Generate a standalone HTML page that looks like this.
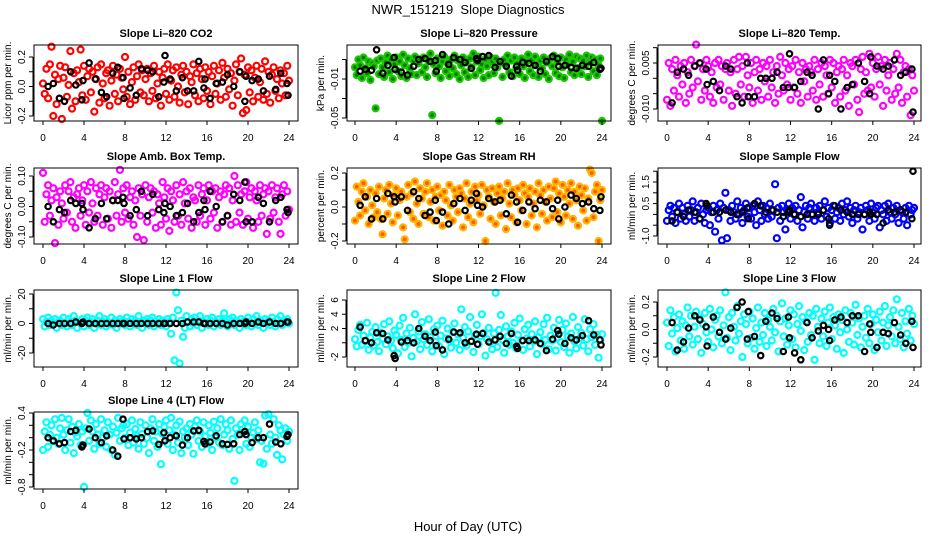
<!DOCTYPE html>
<html><head><meta charset="utf-8">
<style>
html,body{margin:0;padding:0;background:#fff;}
svg{display:block;font-family:"Liberation Sans",Arial,sans-serif;}
</style></head>
<body>
<svg id="chart" width="936" height="540" viewBox="0 0 936 540" xmlns="http://www.w3.org/2000/svg">
<rect x="0" y="0" width="936" height="540" fill="#fff"/>
<text x="468" y="14" text-anchor="middle" font-size="13">NWR_151219&#160; Slope Diagnostics</text>
<text x="468" y="531" text-anchor="middle" font-size="13">Hour of Day (UTC)</text>
</svg>
<script>
const sampleHours = [0,0.17,0.33,0.5,0.67,0.83,1,1.17,1.33,1.5,1.67,1.83,
2,2.17,2.33,2.5,2.67,2.83,3,3.17,3.33,3.5,3.67,3.83,
4,4.17,4.33,4.5,4.67,4.83,5,5.17,5.33,5.5,5.67,5.83,
6,6.17,6.33,6.5,6.67,6.83,7,7.17,7.33,7.5,7.67,7.83,
8,8.17,8.33,8.5,8.67,8.83,9,9.17,9.33,9.5,9.67,9.83,
10,10.17,10.33,10.5,10.67,10.83,11,11.17,11.33,11.5,11.67,11.83,
12,12.17,12.33,12.5,12.67,12.83,13,13.17,13.33,13.5,13.67,13.83,
14,14.17,14.33,14.5,14.67,14.83,15,15.17,15.33,15.5,15.67,15.83,
16,16.17,16.33,16.5,16.67,16.83,17,17.17,17.33,17.5,17.67,17.83,
18,18.17,18.33,18.5,18.67,18.83,19,19.17,19.33,19.5,19.67,19.83,
20,20.17,20.33,20.5,20.67,20.83,21,21.17,21.33,21.5,21.67,21.83,
22,22.17,22.33,22.5,22.67,22.83,23,23.17,23.33,23.5,23.67,23.83,24];
const blackHours = [0.5,1.0,1.6,2.1,2.7,3.2,3.8,3.9,4.5,5.1,5.7,6.2,6.8,7.3,7.8,7.9,8.5,9.1,9.6,10.2,10.7,11.3,11.8,11.9,12.4,13.0,13.6,14.1,14.7,15.2,15.7,15.8,16.3,16.9,17.5,18.0,18.6,19.2,19.7,19.8,20.4,21.0,21.5,22.1,22.7,23.2,23.8,23.9];
const xTicks = [0,4,8,12,16,20,24];

const co2Values = [.02,-.05,.12,-.08,.15,.27,-.2,.08,-.12,.05,.14,-.22,
.06,.13,-.07,.01,.24,-.15,.09,-.1,.11,.03,.25,-.06,
.14,-.09,.07,.12,-.04,.1,-.17,.05,.13,-.11,.15,.02,
-.08,.09,.11,-.13,.04,.14,-.05,.08,-.1,.12,.06,-.02,
.2,-.07,.1,-.12,.03,.13,-.09,.07,.15,-.04,.11,-.06,
.05,.12,-.1,.09,-.03,.14,-.08,.02,.1,-.13,.06,.12,
-.05,.15,-.09,.04,.11,-.07,.13,.0,-.11,.08,.14,-.04,
.1,-.12,.07,.03,.15,-.06,.09,-.1,.12,.05,-.08,.13,
-.03,.1,-.12,.07,.14,-.05,.02,.11,-.09,.16,.06,-.07,
.12,-.02,.09,-.13,.04,.15,-.06,.1,.19,-.18,.08,-.16,
.13,-.04,.11,-.1,.06,.14,-.07,.03,.12,-.09,.17,-.05,
.1,-.11,.08,.13,-.03,.05,-.08,.11,.02,.09,-.06,.14,.04];
const co2Black = [0,.02,-.08,-.1,.1,.01,-.09,.04,.16,.05,-.04,-.07,.09,.13,.06,-.08,-.01,-.06,.12,.11,.1,-.07,.03,.21,.05,-.03,.06,-.03,-.03,.17,-.01,.05,-.08,.02,.03,.08,0,.1,-.1,.07,.04,.05,-.03,.07,-.02,.09,.02,-.06];

const pressValues = [.002,-.006,.01,.004,-.009,.012,.001,-.004,.008,-.011,.006,.003,
-.04,.009,-.005,.011,.002,-.008,.007,.014,-.003,.01,-.01,.005,
.012,-.002,.008,-.007,.015,.004,-.009,.011,.001,-.005,.009,.013,
-.006,.006,.01,-.003,.012,.002,-.008,.009,.016,-.047,.005,-.004,
.011,.003,-.009,.008,.013,-.002,.006,-.007,.01,.001,.014,-.005,
.009,-.01,.004,.012,-.003,.007,-.008,.011,.002,.016,-.006,.008,
.013,-.001,.005,-.009,.01,.003,-.006,.012,.008,-.004,.011,.002,
-.053,.007,-.008,.01,.004,.014,-.003,.009,-.007,.012,.001,.006,
-.005,.011,.003,-.009,.008,.015,-.002,.01,-.006,.013,.004,-.008,
.009,.001,.012,-.005,.007,-.01,.011,.003,.014,-.004,.008,-.007,
.012,.002,-.009,.01,.005,.015,-.003,.008,-.006,.013,.001,.011,
-.005,.009,.003,.014,-.008,.007,.012,-.002,.01,-.006,.004,.011,-.053];
const pressBlack = [-.002,.0,-.001,.02,-.004,.004,.012,.0,-.003,-.006,.003,.01,.011,.008,.009,-.002,.015,.005,.012,.01,.007,.001,.011,.009,.013,.014,.002,.008,.003,-.007,.003,-.001,.007,.006,.004,-.002,.008,.013,.011,.003,.004,.002,.001,.004,.003,.007,.0,.001];

const licorTempValues = [-.007,.005,-.009,.003,-.004,.006,.001,-.006,.004,-.002,.005,-.008,
.002,-.005,.006,-.003,.004,.011,-.001,.005,-.007,.003,-.004,.006,
.004,-.006,.002,-.008,.005,-.003,.006,-.002,.004,-.007,.003,.005,
-.004,.002,-.009,.006,-.005,.003,.007,-.002,.004,-.006,.007,.001,
-.003,.005,-.008,.002,.006,-.004,.003,-.007,.005,-.001,.004,-.006,
.006,-.003,.002,-.008,.004,-.005,.007,.001,-.004,.005,-.002,.003,
-.007,.004,-.003,.006,-.005,.002,-.008,.005,-.001,.003,-.006,.004,
.002,-.004,.006,-.007,.003,-.002,.005,-.006,.004,.001,-.005,.006,
-.003,.005,-.008,.002,.004,-.006,.003,.006,-.004,.001,-.009,.005,
.004,-.002,.006,-.007,-.011,.003,.007,-.005,.002,-.004,.008,-.003,
.005,-.006,.003,.007,-.002,.004,-.009,.006,-.004,.001,.005,-.007,
.003,-.005,.008,-.003,.006,-.008,.002,.004,-.006,.003,-.012,.001,-.004];
const licorTempBlack = [-.008,.002,.003,.001,.004,.005,.003,-.002,-.001,-.004,.004,.003,-.006,-.008,.005,-.006,-.006,.0,.0,.0,.002,-.003,-.003,.008,-.003,-.001,.002,.001,-.010,.006,-.005,.001,-.001,-.01,-.003,-.002,.005,-.001,-.005,.007,.004,.003,.004,.006,.001,.002,.003,-.011];

const ambValues = [.11,-.05,.04,.07,-.03,.02,.06,-.12,.03,-.06,.05,.01,
-.04,.07,-.02,.05,.08,-.05,.03,-.07,.04,.06,-.03,.02,
.07,-.06,.05,-.02,.08,.01,-.05,.06,-.03,.04,.07,-.06,
.03,.06,-.04,.05,-.07,.02,.08,-.03,.04,.12,-.05,.06,
-.02,.07,-.04,.03,.05,-.06,.02,-.1,.06,-.03,.04,-.11,
.07,-.05,.03,.06,-.02,.05,-.07,.04,.01,-.06,.08,.03,
-.04,.06,-.08,.05,.02,-.05,.07,-.03,.04,-.06,.08,.01,
.05,-.04,.06,-.07,.03,.02,-.05,.07,-.03,.04,.06,-.06,
.02,.07,-.04,.05,-.02,.06,-.07,.03,.05,-.05,.04,.07,
-.03,.06,-.06,.02,.1,-.05,.07,-.02,.04,-.06,.05,.08,
-.04,.03,.06,-.07,.05,.02,-.05,.07,-.03,.04,.06,-.09,
.05,-.04,.07,-.02,.03,.06,-.05,-.09,.04,.07,-.03,.05,-.01];
const ambBlack = [.0,-.05,-.01,-.02,.02,.01,.01,-.01,-.07,-.04,.01,-.04,.02,.02,.03,.01,-.03,-.01,.05,-.03,.04,-.01,-.02,.01,.0,-.03,-.02,.01,-.05,-.02,.02,-.01,.05,.0,-.05,-.03,.04,.02,.08,-.05,-.05,.03,.01,-.05,.02,.03,-.01,-.02];

const rhValues = [-.08,.12,.03,-.05,.09,.14,-.02,.06,-.1,.1,.01,-.06,
.08,-.03,.12,-.07,-.16,.05,.1,-.04,.13,.02,-.09,.07,
.11,-.05,.04,.09,-.12,-.19,.06,.13,-.03,.08,-.07,.15,
.02,-.1,.11,.05,-.04,.09,.14,-.06,.03,.1,-.08,.06,
.12,-.02,.07,-.11,.09,.04,-.05,.13,.01,-.08,.1,.06,
-.03,.11,.08,-.12,.05,.14,-.06,.02,.09,-.09,.12,.04,
.07,-.04,.13,.01,-.2,.1,.06,-.07,.11,.03,-.1,.08,
.12,-.05,.05,.09,-.13,.14,.02,-.06,.1,.07,-.09,.11,
.04,-.02,.13,.08,-.1,.06,.11,-.05,.02,.09,-.12,.14,
.07,-.04,.1,.03,-.08,.12,.05,-.06,.11,.15,-.03,.08,
-.09,.13,.06,-.05,.1,.02,.14,-.07,.09,.04,-.11,.12,
.07,-.02,.11,-.08,.05,.22,.2,-.06,.09,.13,-.2,.04,.1];
const rhBlack = [.01,.06,-.07,.05,-.07,.08,.06,.03,.06,-.02,.09,.05,-.05,-.03,.04,-.08,-.03,-.1,.02,.05,-.02,.04,.08,.01,.0,.05,.03,.04,-.04,.07,.03,-.09,-.02,.03,-.01,.04,.03,-.01,.04,-.07,.0,.07,.05,.02,.03,-.01,-.02,.06];

const sampleFlowValues = [-.3,.2,.4,-.1,.3,-.4,.1,.5,-.2,.3,.0,-.3,
.4,-.1,.2,.6,-.3,.1,.3,-.2,.5,.0,-.4,.2,
.3,-.5,.1,.4,-.8,.2,-.2,.5,-1.2,.3,1.0,-1.1,
.2,-.3,.4,.1,-.2,.6,.0,.3,-.4,.2,.5,-.1,
.3,-.2,.4,.1,-.5,.6,.2,-.3,.4,.0,.3,-.2,
.5,-.1,.2,1.4,-1.1,.3,-.3,.4,.1,-.7,.2,.5,
-.2,.3,.0,.4,-.3,.2,.8,-.6,.1,.4,-.2,.3,
.5,.0,-.3,.3,.1,.4,-.2,.2,.6,-.1,.3,-.4,
.2,.4,-.2,.1,.3,-.3,.5,.0,.2,.6,-.1,.3,
-.4,.2,.4,-.2,.1,.3,-.7,.0,.4,.2,-.3,.5,
.1,-.2,.3,.4,-.6,.2,.0,.4,-.3,.5,.1,-.2,
.3,.0,.4,-.4,.2,.1,-.2,.3,-.5,.4,.0,.2,.3];
const sampleFlowBlack = [-.3,.1,-.1,.2,.1,-.2,.5,.4,.1,.1,.2,.1,.0,.1,.3,-.2,.5,.4,.1,.2,.1,-.1,.1,.2,.0,-.1,.0,.0,.0,.2,-.2,-.5,.4,.2,.1,.0,.0,.0,.1,.0,.0,-.4,.2,.1,.2,.1,-.2,2.0];

const line1Values = [3,-2,1,4,-1,2,0,3,-3,1,2,-1,
4,0,-2,3,1,-1,5,2,-3,1,0,3,
-2,2,4,-1,1,3,-3,0,2,5,-1,1,
3,-2,1,0,4,-1,2,-3,1,3,0,2,
-1,4,1,-2,3,0,2,-1,5,1,-3,2,
0,3,-1,2,4,-2,1,0,3,-1,2,1,
-2,3,1,-7,4,-25,21,9,-27,2,-9,-3,
5,1,-2,3,0,4,-1,2,5,-3,1,0,
3,-1,2,4,-2,1,0,3,-1,2,7,1,
-2,3,0,4,-1,2,1,-3,3,0,2,-1,
4,1,-2,3,0,5,-1,2,1,-3,3,0,
2,-1,4,1,-2,3,0,5,-1,2,1,3,0];
const line1Black = [0,-1,0,0,0,1,0,1,0,0,0,0,0,0,0,0,0,0,0,0,0,0,0,0,0,0,0,1,1,1,0,0,0,0,0,-1,0,0,0,1,0,1,0,1,0,0,1,1];

const line2Values = [.5,-.5,1.8,2.5,-.3,1.0,.2,2.8,-1.0,.8,1.5,-.4,
2.2,.1,-1.2,1.4,.6,2.6,-.2,.9,3.0,.3,-.8,1.7,
1.1,-1.5,2.4,.4,3.5,-.6,1.3,.0,2.1,-1.9,.7,4.0,
.2,1.6,-.9,2.9,.5,1.2,-.3,3.3,.8,-1.2,1.9,.1,
2.4,-.5,1.0,3.1,-1.6,.6,2.0,.3,-.7,1.5,2.7,.0,
1.2,-1.0,4.7,.7,2.2,-.4,1.6,3.6,.2,-1.3,1.0,2.5,
-.2,.9,4.0,1.4,-1.8,.5,2.1,.1,-.9,1.3,7.0,-.6,
1.8,3.9,.4,-1.4,2.3,.9,-.3,1.6,.0,2.8,-.8,1.1,
3.4,.3,-1.0,1.9,.6,2.5,-.5,1.2,.2,3.0,-1.6,.8,
1.5,-.2,2.6,.4,3.5,-.9,1.0,.3,2.1,-1.1,.7,3.2,
.1,1.8,-.6,2.7,.9,-1.4,1.3,3.6,.2,-.8,2.2,.6,
1.4,-.4,3.3,.5,-1.2,1.9,.8,2.6,-.3,1.1,-2.1,.4,1.2];
const line2Black = [2.2,.3,.0,1.4,1.3,.4,-1.8,-2.2,.1,.3,.0,2.0,.9,.3,1.5,-.4,-1.0,.5,1.5,1.4,.0,.2,1.2,-.2,1.3,.1,.4,.9,-.1,1.3,-.5,-.8,.3,.3,.4,-.1,-1.1,.5,1.7,1.2,-.1,.7,.4,1.0,3.1,1.1,.4,-.3];

const line3Values = [.05,-.12,.14,-.03,.09,-.16,.01,.11,-.08,.06,-.14,.03,
.16,-.05,.1,-.11,.02,.13,-.07,.08,-.17,.04,.12,-.02,
-.09,.15,.0,-.13,.07,.1,-.05,.14,-.1,.03,.27,-.06,
.09,-.15,.12,.02,-.08,.17,-.03,.06,-.2,.11,.04,-.1,
.13,-.06,.08,-.14,.01,.16,-.09,.05,-.04,.12,-.12,.07,
.02,-.08,.15,-.02,.1,-.16,.06,.19,-.05,.08,-.11,.03,
.14,-.07,.11,-.13,.04,.17,-.01,.09,-.15,.06,-.09,.12,
-.04,.1,-.22,.15,.02,-.1,.08,-.05,.13,-.12,.05,.16,
-.07,.09,.03,-.14,.11,-.02,.07,-.17,.14,.0,-.09,.12,
.05,-.11,.18,-.04,.08,-.13,.02,.1,-.06,.15,-.1,.04,
.11,-.15,.07,-.02,.13,-.08,.05,.17,-.12,.03,.09,-.05,
.14,-.1,.22,.02,-.07,.12,-.13,.06,-.03,.15,-.08,.1,.04];
const line3Black = [.05,-.15,-.09,.01,.1,.07,.02,-.12,.09,-.02,-.07,.01,.16,.2,-.07,.13,-.05,-.19,.06,.12,.08,-.16,.09,-.06,-.17,-.22,.05,-.06,-.01,.03,.0,-.08,.07,.09,.05,.1,.1,-.16,.04,-.02,-.13,-.02,-.03,.05,-.04,-.1,.06,-.13];

const line4Values = [-.2,.1,.25,-.15,.05,.2,-.05,.3,.0,-.1,.15,.32,
.05,-.2,.12,.3,-.08,.18,-.25,.08,.02,.22,-.12,.1,
-.8,.15,.4,-.05,.28,.1,-.18,.22,.05,-.1,.3,.0,
.12,-.15,.25,.05,-.2,.18,-.28,.08,.32,-.05,.15,.2,
.0,.22,-.12,.08,.28,-.08,.14,.02,-.18,.25,.06,-.1,
.2,.0,-.25,.15,.3,-.05,.1,-.15,.22,-.43,.06,.18,
.28,-.1,.12,.32,-.2,.05,.2,-.08,.26,-.25,.1,.0,
.15,-.12,.22,.05,-.26,.18,.28,-.05,.1,-.15,.25,.02,
-.1,.2,.08,-.2,.26,.0,.15,-.08,.3,-.12,.05,.22,
.12,-.18,.28,-.02,-.7,.15,.05,-.2,.22,.08,.28,-.1,
.18,-.15,.0,.08,.25,-.02,.12,-.4,-.05,-.42,.36,-.18,
.38,.05,-.1,.3,.0,-.28,.2,.12,-.35,.05,.15,-.05,.1];
const line4Black = [.0,-.05,-.1,-.08,.1,.12,-.15,-.12,.14,.0,-.08,.03,-.2,-.3,.3,-.02,.0,-.02,.0,.1,.11,-.11,.08,-.05,.0,.03,-.12,.0,.11,.12,-.06,-.1,-.07,.03,-.1,-.11,-.1,.05,.1,.05,-.08,.0,.0,.22,-.07,-.1,.02,.05];

const panelTitles = ["Slope Li\u2013820 CO2","Slope Li\u2013820 Pressure","Slope Li\u2013820 Temp.","Slope Amb. Box Temp.","Slope Gas Stream RH","Slope Sample Flow","Slope Line 1  Flow","Slope Line 2  Flow","Slope Line 3  Flow","Slope Line 4 (LT) Flow"];
const yTitles = ["Licor ppm per min.","kPa per min.","degrees C per min.","degrees C per min.","percent per min.","ml/min per min.","ml/min per min.","ml/min per min.","ml/min per min.","ml/min per min."];
const yTickValues = [[-0.2,-0.1,0,0.1,0.2],[-0.05,-0.03,-0.01,0.01],[-0.01,-0.005,0,0.005,0.01],[-0.1,-0.05,0,0.05,0.1],[-0.2,-0.1,0,0.1,0.2],[-1,-0.5,0,0.5,1,1.5,2],[-20,-10,0,10,20],[-2,0,2,4,6],[-0.2,-0.1,0,0.1,0.2],[-0.8,-0.6,-0.4,-0.2,0,0.2,0.4]];
const yTickLabels = [["-0.2","","0.0","","0.2"],["-0.05","","-0.01",""],["-0.010","","","0.005",""],["-0.10","","0.00","","0.10"],["-0.2","","0.0","","0.2"],["-1.0","","","0.5","","1.5",""],["-20","","0","","20"],["-2","","2","4","6"],["-0.2","","0.0","","0.2"],["-0.8","","","-0.2","","","0.4"]];

const panelValues = [co2Values,pressValues,licorTempValues,ambValues,rhValues,sampleFlowValues,line1Values,line2Values,line3Values,line4Values];
const panelBlack = [co2Black,pressBlack,licorTempBlack,ambBlack,rhBlack,sampleFlowBlack,line1Black,line2Black,line3Black,line4Black];
const panelStroke = ["#ff0000","#18c800","#ff00ff","#ff00ff","#ffb400","#0000ff","#00ffff","#00ffff","#00ffff","#00ffff"];
const panelFill = ["none","#0a7a00","none","none","#ff5a00","none","none","none","none","none"];
const panelSlug = ["co2","pressure","licor-temp","amb-box-temp","gas-stream-rh","sample-flow","line1-flow","line2-flow","line3-flow","line4-flow"];

// layout (pixels)
const cols = [{l:34,r:298,x0:43,x24:289},{l:347,r:611,x0:355,x24:602},{l:658,r:921,x0:667,x24:914}];
const rows = [{t:45,b:121},{t:168,b:244},{t:290,b:367},{t:412,b:489}];
const yAnchors = [[0.2,57,-0.2,116],[-0.01,79,-0.05,118],[0.005,63,-0.01,109],[0.1,176,-0.1,237],[0.2,173,-0.2,241],[1.5,182,-1.0,236],[20,294,-20,353],[6,300,-2,357],[0.2,302,-0.2,357],[0.4,413,-0.8,487]];

const NS = "http://www.w3.org/2000/svg";
const svg = document.getElementById("chart");
function mk(tag, attrs, parent){
  const e = document.createElementNS(NS, tag);
  for (const k in attrs) e.setAttribute(k, attrs[k]);
  (parent||svg).appendChild(e);
  return e;
}

for (let p = 0; p < 10; p++){
  const c = cols[p % 3], r = rows[Math.floor(p / 3)];
  const a = yAnchors[p];
  const xScale = h => c.x0 + (c.x24 - c.x0) * h / 24;
  const yScale = v => a[1] + (v - a[0]) * (a[3] - a[1]) / (a[2] - a[0]);
  const g = mk("g", {});
  
  

  const title = mk("text", {x:(c.l + c.r) / 2, y:r.t - 8, "text-anchor":"middle", "font-size":"11", "font-weight":"bold"}, g);
  title.textContent = panelTitles[p];
  
  

  const pts = mk("g", {}, g);
  
  
  const vals = panelValues[p];
  for (let i = 0; i < vals.length && i < sampleHours.length; i++){
    const ci = mk("circle", {cx:xScale(sampleHours[i]).toFixed(1), cy:yScale(vals[i]).toFixed(1), r:"3", fill:panelFill[p], stroke:panelStroke[p], "stroke-width":"2.2"}, pts);
    
    
  }
  const bpts = mk("g", {}, g);
  
  
  const bv = panelBlack[p];
  for (let i = 0; i < bv.length && i < blackHours.length; i++){
    const ci = mk("circle", {cx:xScale(blackHours[i]).toFixed(1), cy:yScale(bv[i]).toFixed(1), r:"2.7", fill:"none", stroke:"#000", "stroke-width":"2.2"}, bpts);
    
    
  }

  const box = mk("rect", {x:c.l, y:r.t, width:c.r - c.l, height:r.b - r.t, fill:"none", stroke:"#000", "stroke-width":"1"}, g);
  
  

  xTicks.forEach(t => {
    const x = xScale(t);
    const tk = mk("line", {x1:x, x2:x, y1:r.b, y2:r.b + 4, stroke:"#000"}, g);
    
    
    const lb = mk("text", {x:x, y:r.b + 20, "text-anchor":"middle", "font-size":"10"}, g);
    lb.textContent = String(t);
    
    
  });

  const tv = yTickValues[p], tl = yTickLabels[p];
  const yax = mk("line", {x1:c.l - 1, x2:c.l - 1, y1:yScale(tv[0]), y2:yScale(tv[tv.length - 1]), stroke:"#000"}, g);
  
  
  tv.forEach((v, i) => {
    const y = yScale(v);
    const tk = mk("line", {x1:c.l - 5, x2:c.l - 1, y1:y, y2:y, stroke:"#000"}, g);
    
    
    if (tl[i]){
      const lb = mk("text", {x:0, y:0, "text-anchor":"middle", "font-size":"10", transform:"translate(" + (c.l - 9) + "," + y + ") rotate(-90)"}, g);
      lb.textContent = tl[i];
      
      
    }
  });
  const yt = mk("text", {x:0, y:0, "text-anchor":"middle", "font-size":"10", transform:"translate(" + (c.l - 23) + "," + ((r.t + r.b) / 2) + ") rotate(-90)"}, g);
  yt.textContent = yTitles[p];
  
  
}
</script>
</body></html>
